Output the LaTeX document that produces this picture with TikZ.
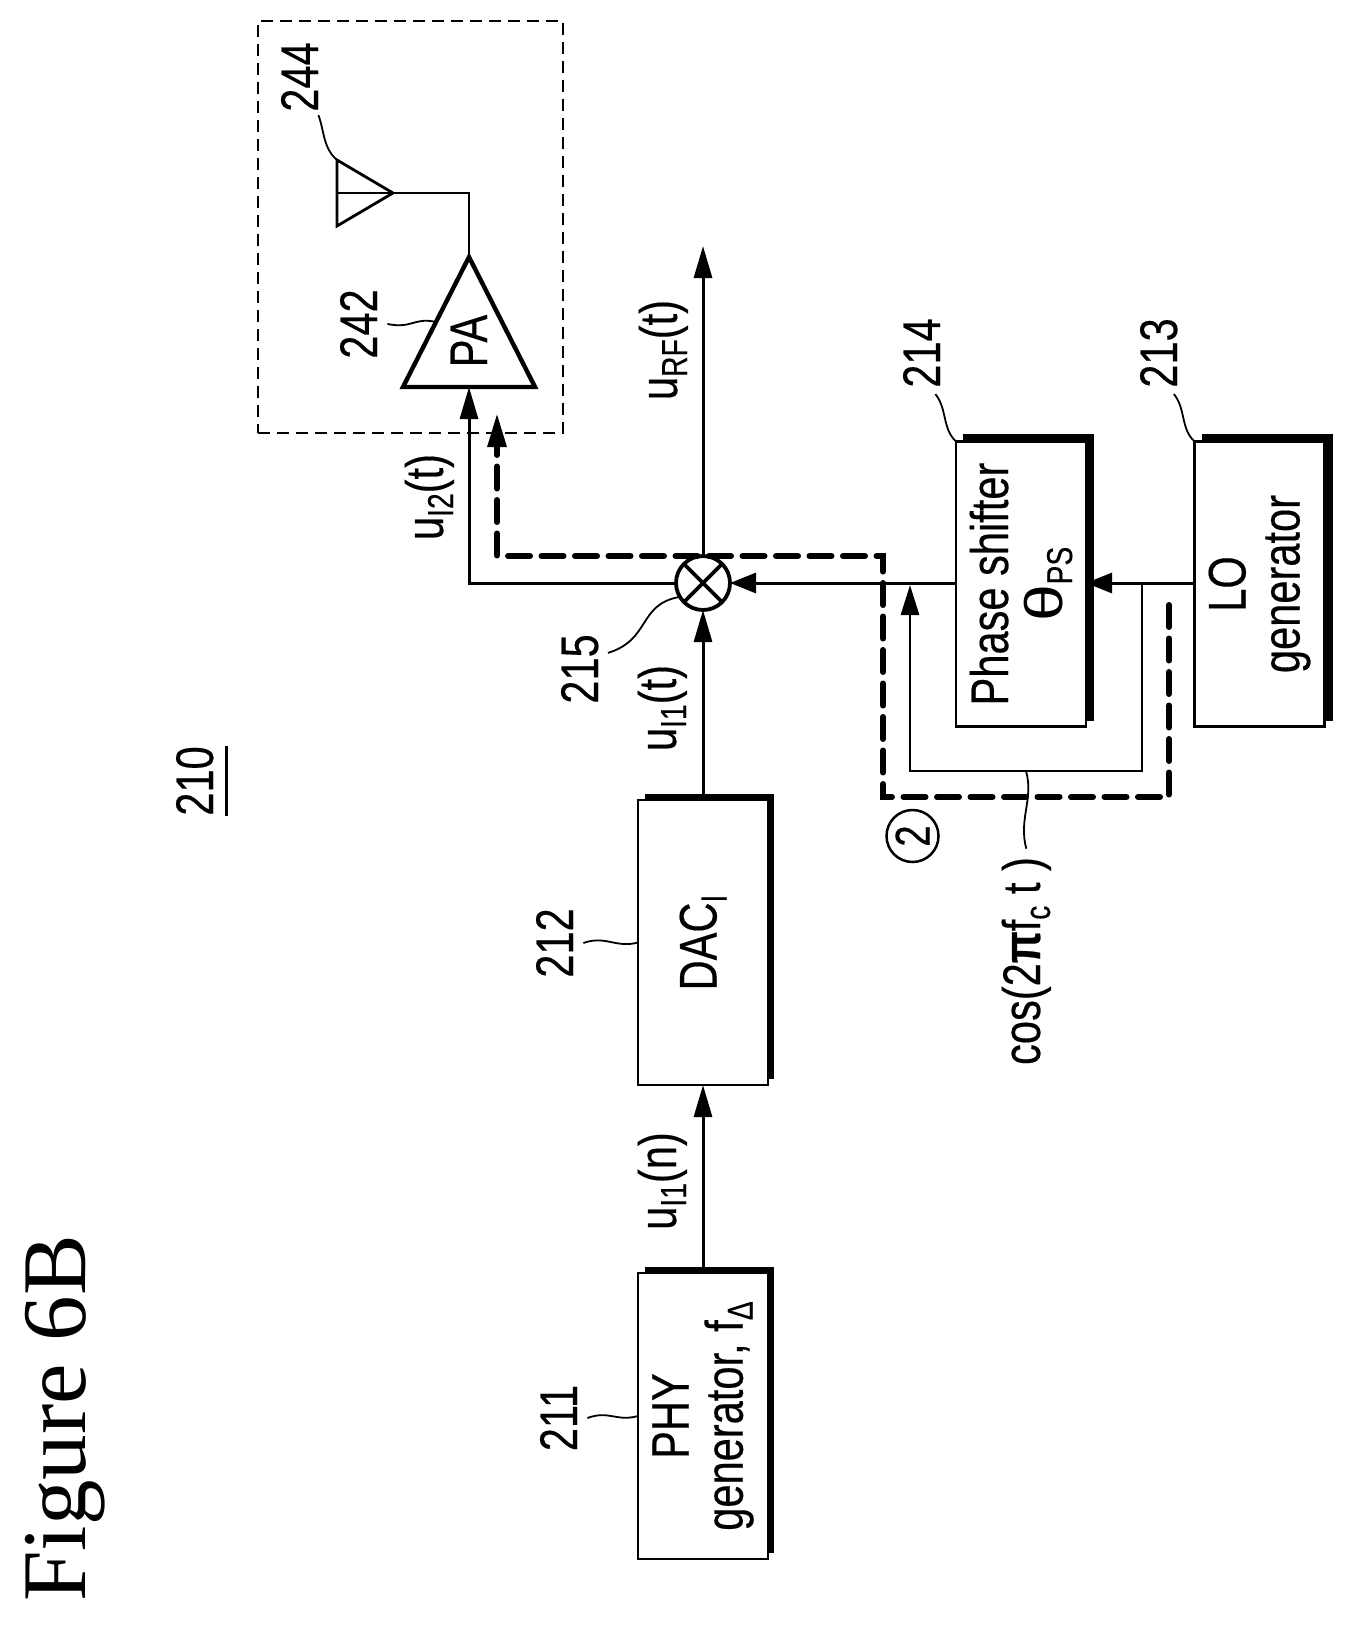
\documentclass[tikz,border=0pt]{standalone}
\usepackage{fontspec}
\usetikzlibrary{arrows.meta,shapes.geometric}
\setmainfont[FakeStretch=0.785,FakeBold=0.3]{Liberation Sans}
\newfontfamily\titlefont{Liberation Serif}
\newfontfamily\widefont[FakeStretch=1.25]{Liberation Sans}
\newcommand{\low}[1]{\raisebox{-5pt}{\fontsize{18}{18}\selectfont #1}}
\newcommand{\heavyedge}[2][3pt]{\draw[line width=#1] ([xshift=3.5pt,yshift=.5*#1]#2.north east) -- ([xshift=.5*#1,yshift=.5*#1]#2.south east) -- ([xshift=.5*#1,yshift=3pt]#2.south west);}

\begin{document}
\begin{tikzpicture}
    [x=0.5pt,y=-0.5pt,
     every node/.style={font=\fontsize{26.5}{27}\selectfont},
     block/.style={draw,rotate=90,line width=1.4pt,outer sep=0pt,inner sep=0pt,align=center,minimum width=142.5pt,minimum height=65pt},
     lbl/.style={rotate=90,anchor=base,inner sep=0pt},
     sig/.style={-{Triangle[length=16pt,width=9pt]},line width=1.5pt},
     sigh/.style={-{Triangle[length=13pt,width=10pt]},line width=1.5pt},
     wire/.style={line width=1.4pt},
     lead/.style={line width=0.9pt},
     route/.style={-{Triangle[length=17pt,width=9pt]},line width=3pt,line cap=round,dash pattern=on 11pt off 5.75pt}]
    \useasboundingbox (0,0) rectangle (1352,1627);

    \node [rotate=90,anchor=base west,inner sep=0pt,font=\titlefont\fontsize{45.5}{46}\selectfont] (title) at (85,1602) {Figure 6B};
    \node [lbl] (n210) at (213,781) {210};
    \draw [line width=1.5pt] ([xshift=6.5pt]n210.south east) -- ([xshift=6.5pt]n210.south west);

    % blocks
    \node [block,minimum width=143pt] (phy) at (703,1416) {PHY\\generator, f\low{Δ}};
    \node [block] (dac) at (703,942.5) {DAC\low{I}};
    \node [block] (ps) at (1021,584) {Phase shifter\\{\widefont θ}\low{PS}};
    \node [block] (lo) at (1259.5,584) {LO\\generator};
    \heavyedge{phy}
    \heavyedge{dac}
    \heavyedge[4pt]{ps}
    \heavyedge[4pt]{lo}

    \node [circle,draw,line width=1.9pt,minimum size=27pt,inner sep=0pt,outer sep=0pt] (mix) at (703,583) {};
    \draw [line width=1.9pt] (mix.45) -- (mix.225);
    \draw [line width=1.9pt] (mix.135) -- (mix.315);

    % front end
    \node [draw,dash pattern=on 6pt off 3.5pt,line width=1.4pt,minimum width=152.5pt,minimum height=206pt,inner sep=0pt] (front) at (410.5,227) {};
    \node [draw,isosceles triangle,isosceles triangle stretches,rotate=90,anchor=apex,line width=2.2pt,minimum height=65pt,minimum width=66pt,inner sep=0pt,outer sep=0pt] (pa) at (469,257) {};
    \node [lbl] (palabel) at (487,341) {PA};
    \node [draw,isosceles triangle,isosceles triangle stretches,anchor=apex,line width=1.4pt,minimum height=28pt,minimum width=33pt,inner sep=0pt,outer sep=0pt] (ant) at (393,193) {};
    \draw [wire] (ant.lower side) -- (ant.apex) -| (pa.apex);

    % signal path
    \draw [sig] (phy.east) -- (dac.west);
    \draw [sig] (dac.east) -- (mix.south);
    \draw [sigh] (ps.north |- mix) -- (mix.east);
    \draw [sigh] (lo.north |- mix) -- (ps.south |- mix);
    \coordinate (turn) at (469,583);
    \draw [sig] (mix.west) -- (turn) -- (pa.lower side);
    \coordinate (rftip) at (703,246);
    \draw [sig] (mix.north) -- (rftip);

    % loop around the phase shifter
    \coordinate (fbtap) at (1142,583);
    \coordinate (fbmid) at (1026,771);
    \coordinate (fbin) at (910,585);
    \draw [wire,-{Triangle[length=15pt,width=9pt]}] (fbtap) -- (fbtap |- fbmid) -- (fbin |- fbmid) -- (fbin);

    % dashed route 2
    \coordinate (routea) at (1169,605);
    \coordinate (routeb) at (883,797);
    \coordinate (routec) at (497,556);
    \coordinate (routed) at (497,413);
    \draw [route] (routea) |- (routeb) |- (routec) -- (routed);
    \node [circle,draw,rotate=90,line width=1.25pt,minimum size=26pt,inner sep=0pt,font=\fontsize{24.5}{24}\selectfont] (two) at (912.5,836) {2};

    % signal names
    \node [lbl] (uin) at (676,1181) {u\low{I1}(n)};
    \node [lbl] (uone) at (676,708) {u\low{I1}(t)};
    \node [lbl] (utwo) at (443,497) {u\low{I2}(t)};
    \node [lbl] (urf) at (677,350) {u\low{RF}(t)};
    \node [lbl] (ncos) at (1040,961) {cos(2{\bfseries π}f\low{c} t )};

    % reference numbers
    \node [lbl] (n211) at (577,1418) {211};
    \node [lbl] (n212) at (573,943) {212};
    \node [lbl] (n213) at (1177,353) {213};
    \node [lbl] (n214) at (940,353) {214};
    \node [lbl] (n215) at (598,669) {215};
    \node [lbl] (n242) at (377,324) {242};
    \node [lbl] (n244) at (318,77) {244};
    \draw [lead] ([xshift=5pt]n211.south) .. controls +(22,-8) and +(-22,6) .. (phy.north);
    \draw [lead] ([xshift=5pt]n212.south) .. controls +(22,-8) and +(-22,6) .. (dac.north);
    \draw [lead] ([xshift=5pt]n242.south) .. controls +(25,5) and +(-22,-5) .. (pa.left side);
    \draw [lead] ([xshift=-2.5pt,yshift=-3pt]n214.south west) .. controls +(12,15) and +(-14,-13) .. (ps.north east);
    \draw [lead] ([xshift=-2pt,yshift=-3pt]n213.south west) .. controls +(12,15) and +(-14,-13) .. (lo.north east);
    \draw [lead] ([yshift=-1.5pt]n244.south west) .. controls +(6,16) and +(-14,-12) .. (ant.left corner);
    \draw [lead] ([xshift=4.5pt,yshift=-9.5pt]n215.south east) .. controls +(43,-13) and +(-42,7) .. (mix.211);
    \draw [lead] (fbmid) .. controls +(8,28) and +(-8,-30) .. ([yshift=4pt]ncos.east);
  \end{tikzpicture}
\end{document}
